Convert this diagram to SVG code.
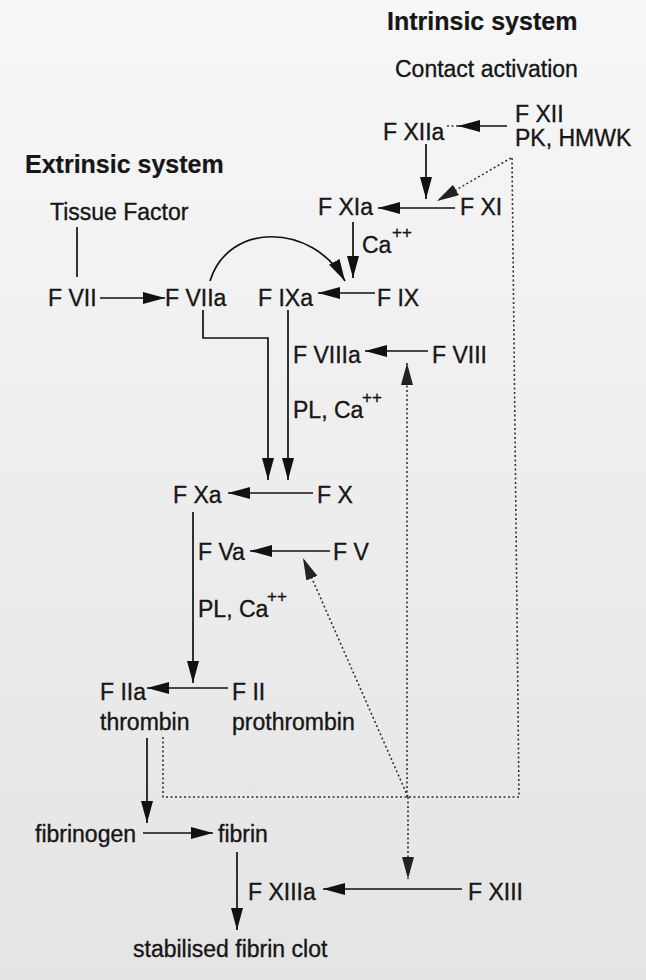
<svg xmlns="http://www.w3.org/2000/svg" width="646" height="980" viewBox="0 0 646 980">
<defs>
<linearGradient id="bg" x1="0" y1="0" x2="0" y2="1">
<stop offset="0" stop-color="#f7f7f7"/>
<stop offset="1" stop-color="#e4e4e4"/>
</linearGradient>
<marker id="ah" markerUnits="userSpaceOnUse" markerWidth="24" markerHeight="14" refX="22" refY="6" orient="auto">
<path d="M0,0 L22,6 L0,12 z" fill="#111"/>
</marker>
<marker id="ahd" markerUnits="userSpaceOnUse" markerWidth="24" markerHeight="14" refX="22" refY="6" orient="auto">
<path d="M0,0 L22,6 L0,12 z" fill="#222"/>
</marker>
</defs>
<style>
text{font-family:"Liberation Sans",Arial,sans-serif;font-size:23px;fill:#161616;stroke:#161616;stroke-width:0.35}
.title{font-weight:bold;font-size:25px;stroke-width:0.2}
.sup{font-size:17px}
.ln{fill:none;stroke:#111;stroke-width:1.7}
.arr{fill:none;stroke:#111;stroke-width:1.7;marker-end:url(#ah)}
.dot{fill:none;stroke:#333;stroke-width:1.6;stroke-dasharray:2 2.5}
.dotarr{fill:none;stroke:#333;stroke-width:1.6;stroke-dasharray:2 2.5;marker-end:url(#ahd)}
</style>
<rect x="0" y="0" width="646" height="980" fill="url(#bg)"/>

<g id="titles">
<text class="title" x="387" y="30">Intrinsic system</text>
<text x="395" y="77">Contact activation</text>
<text class="title" x="25" y="173">Extrinsic system</text>
</g>

<g id="n-fxii"><text x="515" y="122">F XII</text><text x="515" y="146">PK, HMWK</text></g>
<g id="n-fxiia"><text x="383" y="140">F XIIa</text></g>
<g id="n-fxia"><text x="318" y="215">F XIa</text></g>
<g id="n-fxi"><text x="460" y="215">F XI</text></g>
<g id="n-ca1"><text x="362" y="253">Ca</text><text class="sup" x="392" y="238">++</text></g>
<g id="n-tf"><text x="50" y="220">Tissue Factor</text></g>
<g id="n-fvii"><text x="48" y="306">F VII</text></g>
<g id="n-fviia"><text x="165" y="306">F VIIa</text></g>
<g id="n-fixa"><text x="258" y="306">F IXa</text></g>
<g id="n-fix"><text x="377" y="306">F IX</text></g>
<g id="n-fviiia"><text x="293" y="363">F VIIIa</text></g>
<g id="n-fviii"><text x="432" y="363">F VIII</text></g>
<g id="n-pl1"><text x="293" y="418">PL, Ca</text><text class="sup" x="362" y="403">++</text></g>
<g id="n-fxa"><text x="173" y="503">F Xa</text></g>
<g id="n-fx"><text x="317" y="503">F X</text></g>
<g id="n-fva"><text x="198" y="560">F Va</text></g>
<g id="n-fv"><text x="333" y="560">F V</text></g>
<g id="n-pl2"><text x="198" y="617">PL, Ca</text><text class="sup" x="267" y="602">++</text></g>
<g id="n-fiia"><text x="100" y="700">F IIa</text><text x="100" y="730">thrombin</text></g>
<g id="n-fii"><text x="232" y="700">F II</text><text x="232" y="730">prothrombin</text></g>
<g id="n-fibrinogen"><text x="35" y="842">fibrinogen</text></g>
<g id="n-fibrin"><text x="218" y="842">fibrin</text></g>
<g id="n-fxiiia"><text x="248" y="900">F XIIIa</text></g>
<g id="n-fxiii"><text x="468" y="900">F XIII</text></g>
<g id="n-clot"><text x="133" y="957">stabilised fibrin clot</text></g>

<g id="connectors">
<path class="arr" d="M507,126 H458"/>
<path class="dot" d="M458,126 H447"/>
<path class="arr" d="M426,144 V199"/>
<path class="dotarr" d="M511,158 L437,201"/>
<path class="arr" d="M455,208 H378"/>
<path class="arr" d="M353,222 V278"/>
<path class="arr" d="M210,281 C228,222 312,222 345,281"/>
<path class="ln" d="M77,227 V277"/>
<path class="arr" d="M100,298 H165"/>
<path class="arr" d="M375,293 H318"/>
<path class="arr" d="M203,310 V338 H268 V480"/>
<path class="arr" d="M288,310 V480"/>
<path class="arr" d="M428,351 H365"/>
<path class="arr" d="M313,493 H228"/>
<path class="arr" d="M193,512 V683"/>
<path class="arr" d="M330,551 H250"/>
<path class="arr" d="M228,688 H147"/>
<path class="arr" d="M147,738 V823"/>
<path class="arr" d="M143,833 H213"/>
<path class="arr" d="M237,852 V930"/>
<path class="arr" d="M462,889 H323"/>
<path class="dot" d="M163,737 V797 H519 L512,158"/>
<path class="dotarr" d="M407,797 V363"/>
<path class="dotarr" d="M408,797 V879"/>
<path class="dotarr" d="M408,797 L303,558"/>
</g>
</svg>
